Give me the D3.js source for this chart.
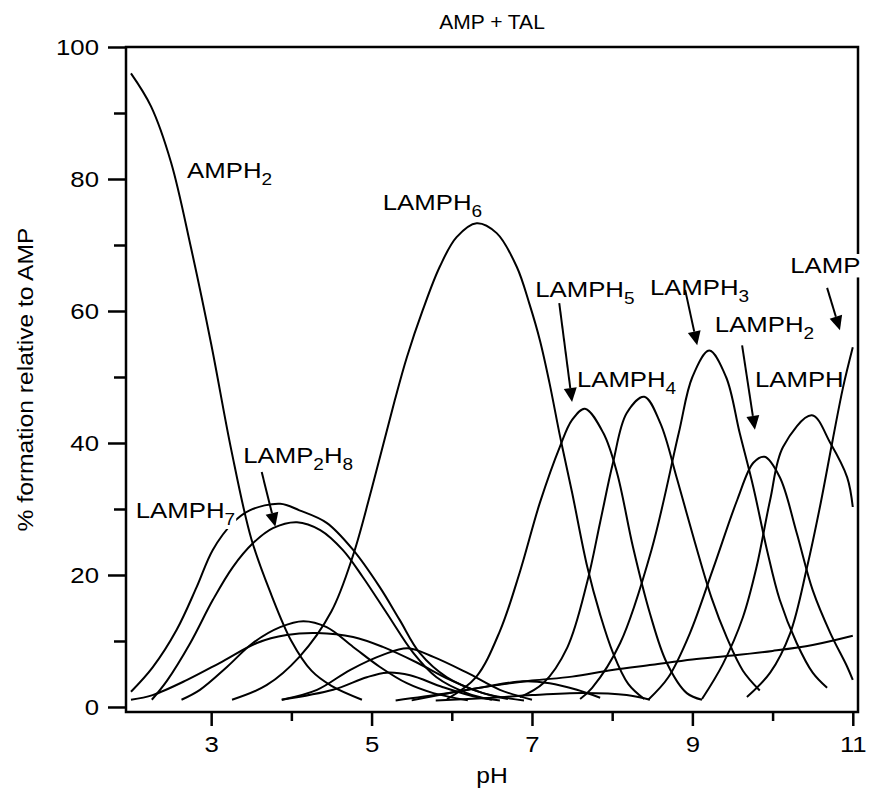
<!DOCTYPE html>
<html>
<head>
<meta charset="utf-8">
<script src="https://cdn.jsdelivr.net/npm/d3@7"></script>
<style>
  body { margin: 0; background: #fff; }
  svg text { font-family: Arial, "Liberation Sans", sans-serif; fill: #000; }
</style>
</head>
<body>
<div id="chart"></div>
<script>
// Species distribution, [pH, % formation relative to AMP]
var amph2   = [[2.0,96],[2.25,91],[2.5,82.5],[2.75,69.5],[3.0,55],[3.25,39],[3.5,25.5],[3.75,17],[4.0,10],[4.25,5.5],[4.5,3.2],[4.88,1.1]];
var lamph7  = [[2.0,2.3],[2.27,6],[2.57,11.7],[2.82,18.2],[3.02,23.8],[3.27,27.9],[3.48,29.8],[3.86,30.8],[4.1,29.8],[4.44,27.9],[4.77,23.8],[5.1,18.2],[5.35,13.2],[5.6,8.2],[5.94,4.5],[6.39,2.1],[6.7,1.2]];
var lamp2h8 = [[2.26,1.1],[2.45,4],[2.74,9.7],[3.02,16.2],[3.27,21.2],[3.52,24.8],[3.77,27.1],[4.07,28],[4.36,26.8],[4.64,23.8],[4.89,19.7],[5.19,14.2],[5.52,8.2],[5.81,4.5],[6.19,2.1],[6.5,1.1]];
var lamp2h7 = [[2.63,1.1],[2.86,2.6],[3.2,6.1],[3.52,9.7],[3.86,12.1],[4.15,13],[4.44,12.1],[4.77,9.1],[5.1,6.1],[5.44,3.6],[5.77,2.1],[6.2,1]];
var amph    = [[2.0,1.1],[2.27,1.8],[2.7,4.1],[3.11,6.7],[3.57,9.7],[3.94,10.9],[4.32,11.2],[4.77,10.6],[5.14,9.1],[5.57,6.7],[5.98,4.1],[6.39,2.1],[6.9,1]];
var lamp2h6 = [[3.88,1.1],[4.32,2.6],[4.73,5.6],[5.14,7.9],[5.45,8.9],[5.77,7.6],[6.19,5.2],[6.6,2.6],[7.0,1.1]];
var lamp2h5 = [[3.88,1.1],[4.52,2.6],[4.94,4.5],[5.19,5.2],[5.48,4.8],[5.89,3],[6.31,1.5],[6.6,1]];
var lamph6  = [[3.26,1.1],[3.69,3.3],[4.1,7.6],[4.5,14.5],[4.77,23],[5.0,33],[5.29,46.5],[5.44,53],[5.64,60.2],[5.85,66.7],[6.06,71.2],[6.31,73.3],[6.56,71.8],[6.81,66.7],[6.97,61],[7.1,55.5],[7.22,49],[7.35,41],[7.5,32.5],[7.69,21.2],[7.85,14],[8.01,8.2],[8.2,3.5],[8.4,1.2]];
var lamp2h4 = [[5.3,1],[5.9,2],[6.39,3],[6.89,3.9],[7.22,3.6],[7.56,2.6],[7.85,1.4]];
var lamp2h3 = [[5.8,1],[6.5,1.4],[7.0,1.8],[7.64,2.1],[8.18,1.8],[8.47,1.1]];
var amp     = [[5.5,1],[6.0,2.2],[6.5,3.2],[7.0,4.0],[7.5,4.6],[8.0,5.6],[8.5,6.4],[9.0,7.2],[9.5,7.8],[10.0,8.5],[10.5,9.4],[11.0,10.8]];
var lamph5  = [[5.94,1.2],[6.3,4.5],[6.6,11.5],[6.85,20.5],[7.1,31],[7.35,39.5],[7.5,43.5],[7.66,45.2],[7.89,41.5],[8.06,35.5],[8.26,24.2],[8.47,14.2],[8.68,6.7],[8.93,2.1],[9.12,1.1]];
var lamph4  = [[6.85,1.5],[7.14,3.6],[7.44,9],[7.69,19],[7.85,28],[8.01,37],[8.18,44.5],[8.4,47],[8.6,43],[8.81,34.5],[9.03,25],[9.24,16.5],[9.43,10.5],[9.63,5.5],[9.84,2.5]];
var lamph3  = [[7.6,1.2],[7.75,2.9],[8.1,9.7],[8.49,23.8],[8.83,41.5],[9.0,50],[9.21,54],[9.42,50],[9.59,41.5],[9.76,33.3],[9.93,23.8],[10.09,16.2],[10.3,9.7],[10.5,5.2],[10.68,2.9]];
var lamph2  = [[8.45,1.1],[8.7,4.5],[8.97,11.2],[9.26,21],[9.56,31.4],[9.76,37],[9.9,37.9],[10.09,34.8],[10.3,26.4],[10.5,17.7],[10.72,11.2],[10.93,6.1],[11.0,4.1]];
var lamph   = [[9.12,1.2],[9.38,6.5],[9.63,13.6],[9.8,21.2],[9.97,31.4],[10.13,39.4],[10.49,44.2],[10.72,40],[10.93,34.8],[11.0,30.3]];
var lamp    = [[9.68,1.5],[9.97,5.2],[10.22,11.2],[10.43,21.2],[10.59,30.3],[10.75,40.5],[10.88,48.5],[11.0,54.5]];

var species = [amph2, lamph7, lamp2h8, lamp2h7, amph, lamp2h6, lamp2h5, lamph6,
               lamp2h4, lamp2h3, amp, lamph5, lamph4, lamph3, lamph2, lamph, lamp];

var majorX = [3, 5, 7, 9, 11],
    minorX = [4, 6, 8, 10],
    majorY = [0, 20, 40, 60, 80, 100],
    minorY = [10, 30, 50, 70, 90];

// curve labels: text parts ([text, isSubscript]) and anchor in data units
var labels = [
  {parts: [["AMPH",0],["2",1]],          at: [2.70, 80.2]},
  {parts: [["LAMPH",0],["6",1]],         at: [5.14, 75.3]},
  {parts: [["LAMPH",0],["5",1]],         at: [7.04, 62.1]},
  {parts: [["LAMPH",0],["3",1]],         at: [8.47, 62.4]},
  {parts: [["LAMPH",0],["2",1]],         at: [9.28, 56.8]},
  {parts: [["LAMPH",0],["4",1]],         at: [7.56, 48.5]},
  {parts: [["LAMPH",0]],                 at: [9.78, 48.5]},
  {parts: [["LAMP",0]],                  at: [10.22, 65.8], bg: true},
  {parts: [["LAMP",0],["2",1],["H",0],["8",1]], at: [3.40, 37.0]},
  {parts: [["LAMPH",0],["7",1]],         at: [2.06, 28.6], bg: true}
];

// arrows from label to curve, [from, to] in data units
var arrows = [
  [[3.63, 35.6], [3.80, 27.3]],
  [[7.34, 61.2], [7.50, 46.2]],
  [[8.91, 63.2], [9.06, 54.8]],
  [[9.62, 54.8], [9.78, 42.0]],
  [[10.68, 63.5], [10.84, 57.1]]
];

var W = 871, H = 789, SX = 1.12; // text in the original is a little wide
var margin = {top: 47, right: 13, bottom: 77, left: 126};

var x = d3.scaleLinear().domain([1.938, 11.065]).range([margin.left, W - margin.right]);
var y = d3.scaleLinear().domain([-0.76, 100]).range([H - margin.bottom, margin.top]);

var svg = d3.select("#chart").append("svg")
    .attr("width", W)
    .attr("height", H);

// ticks (the frame is drawn separately)
function tickAxis(axis, g, ax) {
  g.call(axis);
  g.select(".domain").remove();
  g.selectAll(".tick line").attr("stroke", "#000").attr("stroke-width", 2.5);
  g.selectAll(".tick text")
      .attr("font-size", 23)
      .attr("fill", "#000")
      .attr("transform", "translate(" + ax + ",0) scale(" + SX + ",1) translate(" + (-ax) + ",0)");
}

tickAxis(d3.axisLeft(y).tickValues(majorY).tickSize(18).tickPadding(9).tickFormat(d3.format("d")),
  svg.append("g").attr("transform", "translate(" + margin.left + ",0)"), -27);
tickAxis(d3.axisLeft(y).tickValues(minorY).tickSize(12).tickFormat(""),
  svg.append("g").attr("transform", "translate(" + margin.left + ",0)"), 0);
tickAxis(d3.axisBottom(x).tickValues(majorX).tickSize(14).tickPadding(10).tickFormat(d3.format("d")),
  svg.append("g").attr("transform", "translate(0," + (H - margin.bottom) + ")"), 0);
tickAxis(d3.axisBottom(x).tickValues(minorX).tickSize(9).tickFormat(""),
  svg.append("g").attr("transform", "translate(0," + (H - margin.bottom) + ")"), 0);

// frame
svg.append("rect")
    .attr("x", x.range()[0])
    .attr("y", y.range()[1])
    .attr("width", x.range()[1] - x.range()[0])
    .attr("height", y.range()[0] - y.range()[1])
    .attr("fill", "none")
    .attr("stroke", "#000")
    .attr("stroke-width", 2.5);

// curves
var line = d3.line()
    .x(function(d) { return x(d[0]); })
    .y(function(d) { return y(d[1]); })
    .curve(d3.curveCatmullRom.alpha(0.5));

svg.append("g")
  .selectAll("path")
    .data(species)
  .enter().append("path")
    .attr("d", line)
    .attr("fill", "none")
    .attr("stroke", "#000")
    .attr("stroke-width", 2);

// arrows
var ag = svg.append("g");
arrows.forEach(function(a) {
  var x0 = x(a[0][0]), y0 = y(a[0][1]), x1 = x(a[1][0]), y1 = y(a[1][1]);
  var dx = x1 - x0, dy = y1 - y0, len = Math.sqrt(dx * dx + dy * dy);
  var ux = dx / len, uy = dy / len, hl = 14, hw = 6.5;
  var bx = x1 - ux * hl, by = y1 - uy * hl;
  ag.append("line")
      .attr("x1", x0).attr("y1", y0).attr("x2", bx).attr("y2", by)
      .attr("stroke", "#000").attr("stroke-width", 2);
  ag.append("path")
      .attr("d", "M" + x1 + "," + y1 +
                 "L" + (bx - uy * hw) + "," + (by + ux * hw) +
                 "L" + (bx + uy * hw) + "," + (by - ux * hw) + "Z")
      .attr("fill", "#000");
});

// labels
labels.forEach(function(l) {
  var g = svg.append("g")
      .attr("transform", "translate(" + x(l.at[0]) + "," + y(l.at[1]) + ") scale(" + SX + ",1)");
  var t = g.append("text").attr("font-size", 23);
  var shifted = false;
  l.parts.forEach(function(p) {
    var s = t.append("tspan").text(p[0]);
    if (p[1]) { s.attr("font-size", 17).attr("dy", 7); shifted = true; }
    else if (shifted) { s.attr("dy", -7); shifted = false; }
  });
  if (l.bg) {
    var b = t.node().getBBox();
    g.insert("rect", "text")
        .attr("x", b.x - 1).attr("y", b.y + 2)
        .attr("width", b.width + 2).attr("height", b.height - 2)
        .attr("fill", "#fff");
  }
});

// titles
svg.append("text")
    .attr("x", (x.range()[0] + x.range()[1]) / 2)
    .attr("y", 29)
    .attr("text-anchor", "middle")
    .attr("font-size", 21)
    .text("AMP + TAL");

svg.append("text")
    .attr("transform", "translate(" + (x.range()[0] + x.range()[1]) / 2 + ",783) scale(" + SX + ",1)")
    .attr("text-anchor", "middle")
    .attr("font-size", 22)
    .text("pH");

svg.append("text")
    .attr("transform", "translate(33," + (y.range()[0] + y.range()[1]) / 2 + ") rotate(-90) scale(" + SX + ",1)")
    .attr("text-anchor", "middle")
    .attr("font-size", 22)
    .text("% formation relative to AMP");
</script>
</body>
</html>
